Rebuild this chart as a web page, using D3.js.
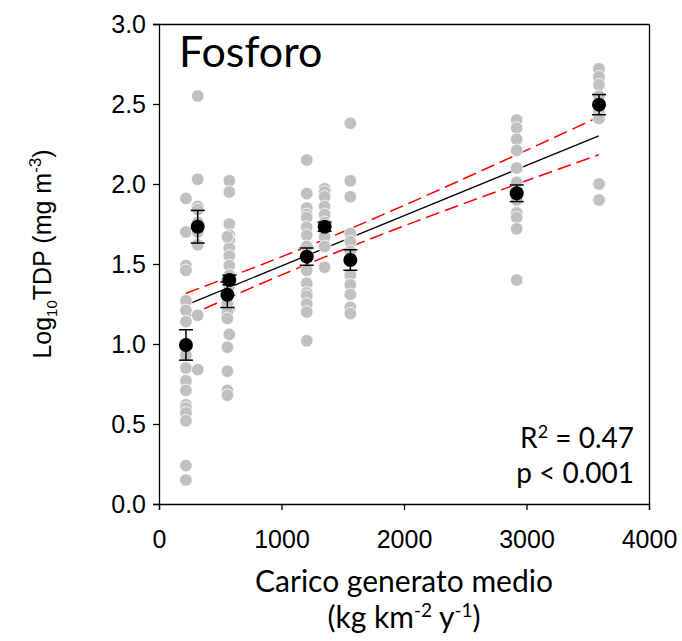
<!DOCTYPE html>
<html>
<head>
  <meta charset="utf-8">
  <script src="https://d3js.org/d3.v7.min.js"></script>
  <style type="text/css">
body { margin: 0; background: #fff; }
svg { display: block; }
.axis text { font-family: "Liberation Sans", Arial, sans-serif; font-size: 25px; fill: #000; }
.axis path, .axis line { stroke: #000; stroke-width: 1.3; }
.calib { font-family: Lato, "Open Sans", sans-serif; fill: #000; }
  </style>
</head>
<body>
<script type="text/javascript">
// grey points: one x (load) per site, many log10 TDP values
var siteX = [220, 316, 574, 558, 1206, 1352, 1562, 2920, 3592];
var siteVals = [
  [1.91, 1.70, 1.49, 1.46, 1.27, 1.21, 1.14, 1.00, 0.93, 0.85, 0.77, 0.71, 0.62, 0.60, 0.57, 0.52, 0.24, 0.15],
  [2.55, 2.03, 1.86, 1.84, 1.76, 1.70, 1.62, 1.18, 0.84],
  [2.02, 1.95, 1.75, 1.68, 1.65, 1.60, 1.55, 1.49, 1.43, 1.36, 1.22, 1.06],
  [1.67, 1.40, 1.30, 1.25, 1.20, 1.16, 0.98, 0.83, 0.71, 0.68],
  [2.15, 1.94, 1.85, 1.81, 1.79, 1.73, 1.68, 1.61, 1.55, 1.46, 1.38, 1.32, 1.30, 1.25, 1.20, 1.02],
  [1.97, 1.95, 1.92, 1.86, 1.81, 1.76, 1.74, 1.71, 1.67, 1.61, 1.48],
  [2.38, 2.02, 1.92, 1.69, 1.64, 1.58, 1.52, 1.43, 1.37, 1.31, 1.23, 1.19],
  [2.40, 2.35, 2.28, 2.21, 2.10, 2.01, 1.95, 1.90, 1.82, 1.79, 1.72, 1.40],
  [2.72, 2.67, 2.62, 2.55, 2.50, 2.45, 2.41, 2.00, 1.90]
];
// site means +- SE
var meanY  = [0.994, 1.733, 1.400, 1.308, 1.546, 1.733, 1.525, 1.942, 2.496];
var meanSE = [0.095, 0.102, 0.030, 0.080, 0.054, 0.028, 0.064, 0.052, 0.063];

// regression and 95% band
var fitX = [220, 3590];
var fitY = [1.243, 2.301];
var bandX  = [220, 800, 1300, 2000, 2800, 3590];
var bandUp = [1.317, 1.485, 1.637, 1.866, 2.141, 2.419];
var bandLo = [1.169, 1.366, 1.527, 1.738, 1.965, 2.183];

var xTicks = [0, 1000, 2000, 3000, 4000];
var yTicks = [0, 0.5, 1, 1.5, 2, 2.5, 3];

var W = 682, H = 641;
var margin = {top: 24, right: 33, bottom: 137, left: 159};
var width = W - margin.left - margin.right,
    height = H - margin.top - margin.bottom;

var svg = d3.select("body").append("svg")
  .attr("width", W)
  .attr("height", H);

var g = svg.append("g")
  .attr("transform", "translate(" + margin.left + "," + margin.top + ")");

var x = d3.scaleLinear().domain([0, 4000]).range([0, width]);
var y = d3.scaleLinear().domain([0, 3]).range([height, 0]);

// frame top / right
g.append("g").attr("class", "axis")
  .call(d3.axisTop(x).tickValues([]).tickSizeOuter(0));
g.append("g").attr("class", "axis")
  .attr("transform", "translate(" + width + ",0)")
  .call(d3.axisRight(y).tickValues([]).tickSizeOuter(0));

g.append("g").attr("class", "axis")
  .attr("transform", "translate(0," + height + ")")
  .call(d3.axisBottom(x).tickValues(xTicks).tickSizeOuter(0).tickSize(6).tickPadding(20)
    .tickFormat(d3.format("d")));

g.append("g").attr("class", "axis")
  .call(d3.axisLeft(y).tickValues(yTicks).tickSizeOuter(0).tickSize(6).tickPadding(7)
    .tickFormat(d3.format(".1f")));

// lines
var line = d3.line().x(function(d) { return x(d[0]); }).y(function(d) { return y(d[1]); });
var bandLine = d3.line().curve(d3.curveMonotoneX)
  .x(function(d) { return x(d[0]); }).y(function(d) { return y(d[1]); });

g.append("path")
  .attr("d", line(d3.zip(fitX, fitY)))
  .attr("fill", "none").attr("stroke", "#000").attr("stroke-width", 1.3);

[bandUp, bandLo].forEach(function(b) {
  g.append("path")
    .attr("d", bandLine(d3.zip(bandX, b)))
    .attr("fill", "none").attr("stroke", "#ff0000").attr("stroke-width", 1.5)
    .attr("stroke-dasharray", "14,6");
});

// grey points
var pts = [];
siteVals.forEach(function(vals, i) {
  vals.forEach(function(v) { pts.push({x: siteX[i], y: v}); });
});
g.selectAll(".pt").data(pts).enter().append("circle")
  .attr("class", "pt")
  .attr("cx", function(d) { return x(d.x); })
  .attr("cy", function(d) { return y(d.y); })
  .attr("r", 6.3)
  .attr("fill", "#c0c0c0")
  .attr("stroke", "#fff")
  .attr("stroke-width", 0.8);

// means with SE bars
var means = siteX.map(function(sx, i) { return {x: sx, y: meanY[i], se: meanSE[i]}; });
var eb = g.selectAll(".eb").data(means).enter().append("g").attr("class", "eb")
  .attr("stroke", "#000").attr("stroke-width", 1.5);
eb.append("line")
  .attr("x1", function(d) { return x(d.x); }).attr("x2", function(d) { return x(d.x); })
  .attr("y1", function(d) { return y(d.y - d.se); }).attr("y2", function(d) { return y(d.y + d.se); });
[-1, 1].forEach(function(s) {
  eb.append("line")
    .attr("x1", function(d) { return x(d.x) - 7; }).attr("x2", function(d) { return x(d.x) + 7; })
    .attr("y1", function(d) { return y(d.y + s * d.se); }).attr("y2", function(d) { return y(d.y + s * d.se); });
});
g.selectAll(".mean").data(means).enter().append("circle")
  .attr("class", "mean")
  .attr("cx", function(d) { return x(d.x); })
  .attr("cy", function(d) { return y(d.y); })
  .attr("r", 7)
  .attr("fill", "#000");

// texts
g.append("text").attr("class", "calib")
  .attr("x", 20).attr("y", 43)
  .style("font-size", "43px")
  .text("Fosforo");

var stat = g.append("text").attr("class", "calib")
  .attr("text-anchor", "end")
  .style("font-size", "28px");
var r2 = stat.append("tspan").attr("x", width - 15).attr("y", 424);
r2.append("tspan").text("R");
r2.append("tspan").attr("dy", -10).style("font-size", "18px").text("2");
r2.append("tspan").attr("dy", 10).text(" = 0.47");
stat.append("tspan").attr("x", width - 15).attr("y", 459).text("p < 0.001");

var xt = svg.append("text").attr("class", "calib")
  .attr("text-anchor", "middle")
  .style("font-size", "30px");
xt.append("tspan").attr("x", margin.left + width / 2).attr("y", 592).text("Carico generato medio");
var l2 = xt.append("tspan").attr("x", margin.left + width / 2).attr("y", 628);
l2.append("tspan").text("(kg km");
l2.append("tspan").attr("dy", -11).style("font-size", "19px").text("-2");
l2.append("tspan").attr("dy", 11).text(" y");
l2.append("tspan").attr("dy", -11).style("font-size", "19px").text("-1");
l2.append("tspan").attr("dy", 11).text(")");

var yt = svg.append("text")
  .attr("transform", "translate(51," + (margin.top + height / 2 - 10) + ") rotate(-90)")
  .attr("text-anchor", "middle")
  .style("font-family", "'Liberation Sans', Arial, sans-serif")
  .style("font-size", "25px");
yt.append("tspan").text("Log");
yt.append("tspan").attr("dy", 6).style("font-size", "15px").text("10");
yt.append("tspan").attr("dy", -6).text("TDP (mg m");
yt.append("tspan").attr("dy", -10).style("font-size", "17px").text("-3");
yt.append("tspan").attr("dy", 10).text(")");
</script>
</body>
</html>
